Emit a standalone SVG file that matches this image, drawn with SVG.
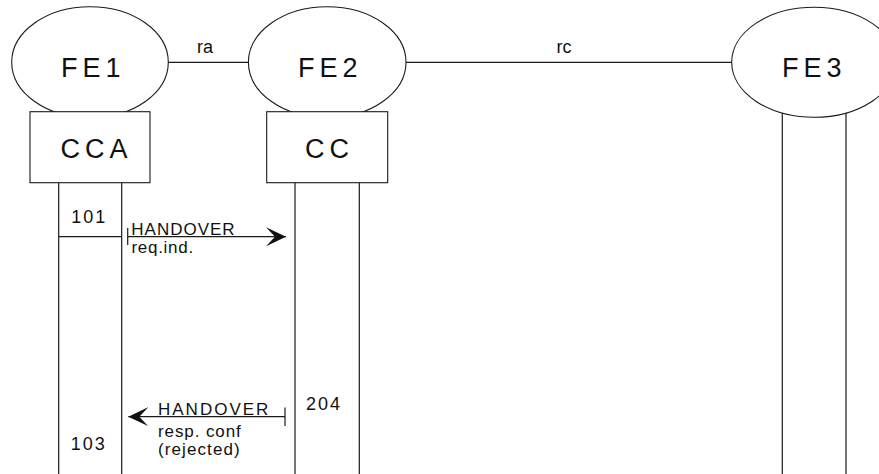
<svg xmlns="http://www.w3.org/2000/svg" width="879" height="474" viewBox="0 0 879 474">
<style>
.ln{stroke:#1a1a1a;stroke-width:1.2;fill:none}
.sh{stroke:#1a1a1a;stroke-width:1.1;fill:#fff}
.big{font-family:"Liberation Sans",Arial,sans-serif;font-size:27px;letter-spacing:5px;fill:#111}
.sm{font-family:"Liberation Sans",Arial,sans-serif;font-size:18px;fill:#111}
.msg{font-family:"Liberation Sans",Arial,sans-serif;font-size:17px;fill:#111}
.num{font-family:"Liberation Sans",Arial,sans-serif;font-size:18px;letter-spacing:2px;fill:#111}
</style>
<defs>
<marker id="chev" viewBox="0 0 20 20" refX="20" refY="10" markerWidth="20" markerHeight="20" markerUnits="userSpaceOnUse" orient="auto">
<path d="M20,10 L0,0.5 L9,10 L0,19.5 Z" fill="#111"/>
</marker>
</defs>
<rect width="879" height="474" fill="#fff"/>
<g id="lifelines">
<line class="ln" x1="58.7" y1="182.7" x2="58.7" y2="474"/>
<line class="ln" x1="121.7" y1="182.7" x2="121.7" y2="474"/>
<line class="ln" x1="295" y1="182.7" x2="295" y2="474"/>
<line class="ln" x1="359.3" y1="182.7" x2="359.3" y2="474"/>
<line class="ln" x1="782.3" y1="100" x2="782.3" y2="474"/>
<line class="ln" x1="846" y1="100" x2="846" y2="474"/>
</g>
<g id="FE1">
<ellipse class="sh" cx="90" cy="62.3" rx="78.3" ry="55.5"/>
<text class="big" x="61" y="76.5">FE1</text>
</g>
<g id="FE2">
<ellipse class="sh" cx="327.2" cy="62.3" rx="78.8" ry="55.5"/>
<text class="big" x="298" y="76.5">FE2</text>
</g>
<g id="FE3">
<ellipse class="sh" cx="814" cy="62.3" rx="82.3" ry="55"/>
<text class="big" x="782" y="76.5">FE3</text>
</g>
<g id="CCA">
<rect class="sh" x="30" y="111.7" width="120" height="71"/>
<text class="big" x="60.5" y="157.5">CCA</text>
</g>
<g id="CC">
<rect class="sh" x="266.7" y="111.7" width="121" height="71"/>
<text class="big" x="305" y="157.5">CC</text>
</g>
<g id="connectors">
<line class="ln" x1="168.3" y1="62.3" x2="248.4" y2="62.3"/>
<line class="ln" x1="406" y1="62.3" x2="731.7" y2="62.3"/>
<line class="ln" x1="58.7" y1="236.7" x2="121.7" y2="236.7"/>
<line class="ln" x1="127.7" y1="228" x2="127.7" y2="245"/>
<line class="ln" x1="127.7" y1="236.7" x2="286" y2="236.7" marker-end="url(#chev)"/>
<line class="ln" x1="285" y1="407.5" x2="285" y2="426"/>
<line class="ln" x1="285" y1="416.7" x2="128.3" y2="416.7" marker-end="url(#chev)"/>
</g>
<g id="labels">
<text class="sm" x="197" y="53.3">ra</text>
<text class="sm" x="556.5" y="53.3">rc</text>
<text class="num" x="71.3" y="223.3">101</text>
<text class="msg" x="131.3" y="235.3" letter-spacing="1">HANDOVER</text>
<text class="msg" x="131.5" y="252.5" letter-spacing="0.7">req.ind.</text>
<text class="num" x="306" y="410">204</text>
<text class="msg" x="158" y="415.2" letter-spacing="2">HANDOVER</text>
<text class="msg" x="158" y="436.5" letter-spacing="0.9">resp. conf</text>
<text class="msg" x="158" y="454.5" letter-spacing="1.1">(rejected)</text>
<text class="num" x="70.7" y="450">103</text>
</g>
</svg>
